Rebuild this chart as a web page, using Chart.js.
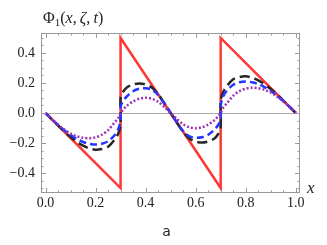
<!DOCTYPE html>
<html>
<head>
<meta charset="utf-8">
<script src="https://cdn.jsdelivr.net/npm/chart.js@4"></script>
<style>
  body { margin: 0; background: #fff; overflow: hidden; }
  #wrap { position: relative; width: 327px; height: 245px; }
  .lbl { position: absolute; white-space: nowrap; color: #222; }
  #ttl { left: 43px; top: 10px; font-family: "Liberation Serif"; font-size: 16px; line-height: 16px; }
  #ttl sub { font-size: 11px; vertical-align: baseline; position: relative; top: 3px; }
  #xl { left: 307px; top: 180px; font-family: "Liberation Serif"; font-style: italic; font-size: 17px; line-height: 16px; }
  #cap { left: 0; width: 333px; text-align: center; top: 224px; font: 14px "DejaVu Sans", sans-serif; line-height: 14px; }
</style>
</head>
<body>
<div id="wrap">
  <canvas id="grafico" width="327" height="245"></canvas>
  <div class="lbl" id="ttl">Φ<sub>1</sub>(<i>x</i>,&#8201;<i>ζ</i>,&#8201;<i>t</i>)</div>
  <div class="lbl" id="xl">x</div>
  <div class="lbl" id="cap">a</div>
</div>
<script>
// tick labels
const xTicks = [0, 0.2, 0.4, 0.6, 0.8, 1.0];
const yTicks = [-0.4, -0.2, 0, 0.2, 0.4];

// red sawtooth (initial profile)
const rojoX = [0, 0.3, 0.3, 0.7, 0.7, 1.0];
const rojoY = [0, -0.5, 0.5, -0.5, 0.5, 0];

// shared x grid for the smoothed curves (0.3 and 0.7 twice for the jumps)
const xs = [0, 0.025, 0.05, 0.075, 0.1, 0.125, 0.15, 0.175, 0.2, 0.225, 0.25, 0.275, 0.29, 0.3,
  0.3, 0.31, 0.325, 0.35, 0.375, 0.4, 0.425, 0.45, 0.475, 0.5, 0.525, 0.55, 0.575, 0.6, 0.625, 0.65, 0.675, 0.69, 0.7,
  0.7, 0.71, 0.725, 0.75, 0.775, 0.8, 0.825, 0.85, 0.875, 0.9, 0.925, 0.95, 0.975, 1.0];

const negroY = [0, -0.042, -0.083, -0.123, -0.16, -0.192, -0.218, -0.236, -0.245, -0.24, -0.225, -0.18, -0.14, -0.08,
  0.1, 0.14, 0.17, 0.19, 0.197, 0.19, 0.17, 0.125, 0.065, 0, -0.065, -0.125, -0.17, -0.19, -0.197, -0.19, -0.17, -0.14, -0.1,
  0.08, 0.14, 0.18, 0.225, 0.24, 0.245, 0.236, 0.218, 0.192, 0.16, 0.123, 0.083, 0.042, 0];

const azulY = [0, -0.041, -0.08, -0.115, -0.147, -0.173, -0.193, -0.205, -0.21, -0.205, -0.188, -0.15, -0.11, -0.05,
  0.04, 0.08, 0.11, 0.145, 0.162, 0.165, 0.155, 0.12, 0.063, 0, -0.063, -0.12, -0.155, -0.165, -0.162, -0.145, -0.11, -0.08, -0.04,
  0.05, 0.11, 0.15, 0.188, 0.205, 0.21, 0.205, 0.193, 0.173, 0.147, 0.115, 0.08, 0.041, 0];

const moradoY = [0, -0.04, -0.078, -0.11, -0.137, -0.155, -0.165, -0.168, -0.162, -0.145, -0.115, -0.065, -0.035, 0,
  0, 0.022, 0.048, 0.077, 0.095, 0.102, 0.095, 0.075, 0.04, 0, -0.04, -0.075, -0.095, -0.102, -0.095, -0.077, -0.048, -0.022, 0,
  0, 0.035, 0.065, 0.115, 0.145, 0.162, 0.168, 0.165, 0.155, 0.137, 0.11, 0.078, 0.04, 0];

const puntos = (xv, yv) => xv.map((x, i) => ({ x: x, y: yv[i] }));

const fmt = (v) => {
  const s = Math.abs(v).toFixed(1);
  return v < -1e-9 ? "\u2212" + s : s;
};

// frame with inward ticks + zero line, mathematica style
const plugin_marco = {
  id: "marco",
  beforeDatasetsDraw: (chart) => {
    const { ctx, chartArea: a, scales } = chart;
    const y0 = Math.round(scales.y.getPixelForValue(0)) + 0.5;
    ctx.save();
    ctx.strokeStyle = "#aaa";
    ctx.lineWidth = 1;
    ctx.beginPath();
    ctx.moveTo(a.left, y0);
    ctx.lineTo(a.right, y0);
    ctx.stroke();
    ctx.restore();
  },
  afterDraw: (chart) => {
    const { ctx, chartArea: a, scales } = chart;
    ctx.save();
    ctx.strokeStyle = "#999";
    ctx.lineWidth = 1;
    ctx.strokeRect(a.left + 0.5, a.top + 0.5, a.right - a.left - 1, a.bottom - a.top - 1);
    ctx.beginPath();
    for (let k = 0; k <= 20; k++) {
      const v = k * 0.05;
      const px = Math.round(scales.x.getPixelForValue(v)) + 0.5;
      const len = k % 4 == 0 ? 5 : 2.5;
      ctx.moveTo(px, a.bottom);
      ctx.lineTo(px, a.bottom - len);
      ctx.moveTo(px, a.top);
      ctx.lineTo(px, a.top + len);
    }
    for (let k = -10; k <= 10; k++) {
      const v = k * 0.05;
      const py = Math.round(scales.y.getPixelForValue(v)) + 0.5;
      const len = k % 4 == 0 ? 5 : 2.5;
      ctx.moveTo(a.left, py);
      ctx.lineTo(a.left + len, py);
      ctx.moveTo(a.right, py);
      ctx.lineTo(a.right - len, py);
    }
    ctx.stroke();
    ctx.restore();
  },
};

const fuente = { family: "Liberation Serif", size: 14 };

new Chart(document.getElementById("grafico").getContext("2d"), {
  type: "line",
  data: {
    datasets: [
      {
        label: "morado",
        data: puntos(xs, moradoY),
        borderColor: "rgb(155, 50, 185)",
        borderWidth: 2.5,
        borderDash: [2, 2],
        pointRadius: 0,
        tension: 0.3,
      },
      {
        label: "azul",
        data: puntos(xs, azulY),
        borderColor: "rgb(35, 55, 255)",
        borderWidth: 2.5,
        borderDash: [7, 4],
        pointRadius: 0,
        tension: 0.3,
      },
      {
        label: "negro",
        data: puntos(xs, negroY),
        borderColor: "rgb(40, 40, 40)",
        borderWidth: 2.5,
        borderDash: [10, 5],
        pointRadius: 0,
        tension: 0.3,
      },
      {
        label: "rojo",
        data: puntos(rojoX, rojoY),
        borderColor: "rgb(255, 55, 55)",
        borderWidth: 2.5,
        pointRadius: 0,
        tension: 0,
      },
    ],
  },
  options: {
    responsive: false,
    animation: false,
    devicePixelRatio: 1,
    layout: { padding: { left: 0, top: 33, right: 27, bottom: 30 } },
    plugins: { legend: { display: false }, tooltip: { enabled: false }, title: { display: false } },
    scales: {
      x: {
        type: "linear",
        min: -0.018,
        max: 1.017,
        grid: { display: false, drawTicks: false },
        border: { display: false },
        afterBuildTicks: (s) => { s.ticks = xTicks.map((v) => ({ value: v })); },
        afterFit: (s) => { s.height = 22; },
        ticks: { font: fuente, color: "#222", padding: 2, maxRotation: 0, callback: (v) => fmt(v) },
      },
      y: {
        type: "linear",
        min: -0.533,
        max: 0.533,
        grid: { display: false, drawTicks: false },
        border: { display: false },
        afterBuildTicks: (s) => { s.ticks = yTicks.map((v) => ({ value: v })); },
        afterFit: (s) => { s.width = 41; },
        ticks: { font: fuente, color: "#222", padding: 6, callback: (v) => fmt(v) },
      },
    },
  },
  plugins: [plugin_marco],
});
</script>
</body>
</html>
